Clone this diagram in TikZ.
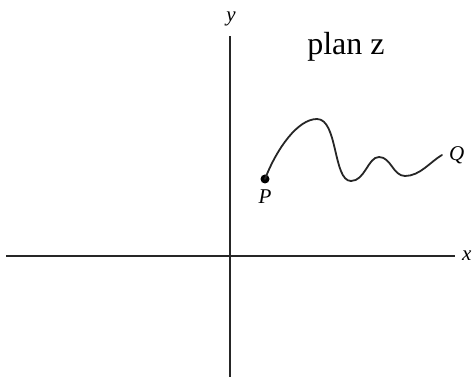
\documentclass[tikz,border=0pt]{standalone}
\usepackage{fontspec}
\setmainfont{Liberation Serif}
\usetikzlibrary{positioning}
\tikzset{
  axis/.style={line width=1.3pt, black!85},
  curve line/.style={line width=1.8pt, black!85, line cap=round},
  lbl/.style={font=\fontsize{21}{23}\selectfont\itshape, inner sep=1pt},
  pointdot/.style={circle, fill=black, inner sep=0pt, minimum size=9pt},
}
\begin{document}
\begin{tikzpicture}[x=1pt, y=-1pt]
  \useasboundingbox (0,0) rectangle (472,377);

  % Axes
  \coordinate (xl) at (6,256);
  \coordinate (xr) at (455,256);
  \coordinate (yb) at (230,377);
  \coordinate (yt) at (230,36);
  \draw[axis] (xl) -- (xr);
  \draw[axis] (yb) -- (yt);
  \node[lbl, right=6pt of xr] (xlab) {x};
  \node[lbl] (ylab) at (231,19) {y};

  % Title
  \node[font=\fontsize{32}{34}\selectfont, anchor=base] (title) at (346,55) {plan z};

  % Path from P to Q
  \node[pointdot] (P) at (265,179) {};
  \node[lbl, below=5pt of P] (plab) {P};
  \coordinate (Q) at (442,155);
  \draw[curve line] (P.center)
    .. controls (277,148) and (298,119) .. (317,119)
    .. controls (338,119) and (333,181) .. (351,181)
    .. controls (365,181) and (368,157) .. (379,157)
    .. controls (391,157) and (393,176) .. (405,176)
    .. controls (420,176) and (430,162) .. (Q);
  \node[lbl, right=6pt of Q] (qlab) {Q};

\end{tikzpicture}
\end{document}
